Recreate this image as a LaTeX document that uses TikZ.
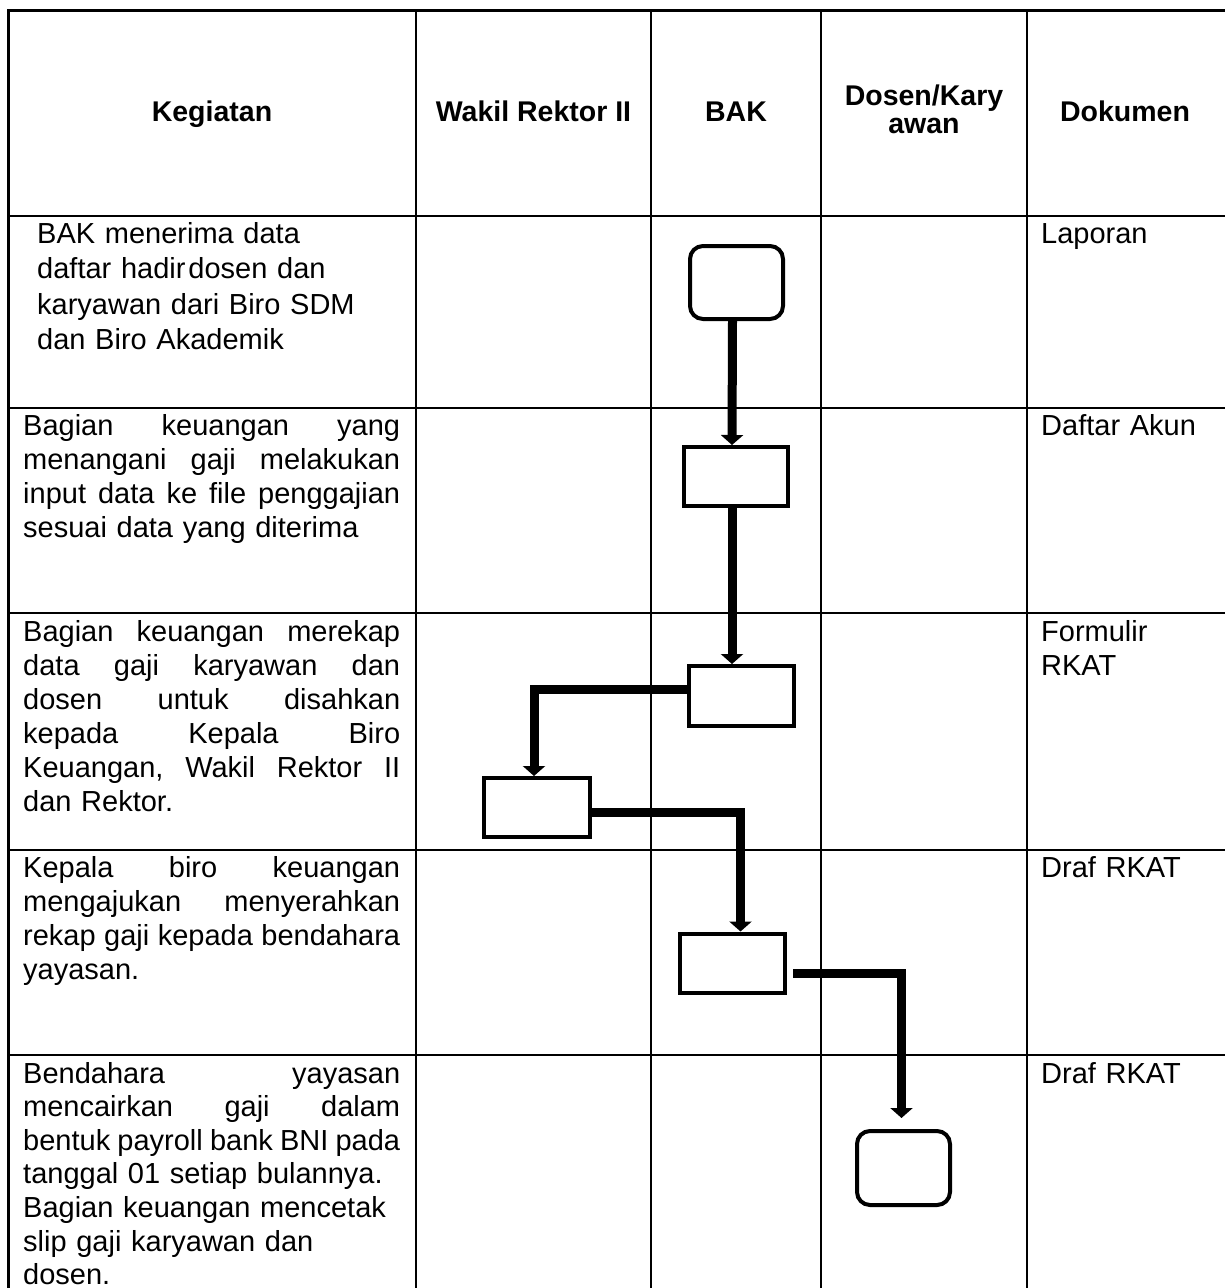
\documentclass[tikz,border=0pt]{standalone}
\usepackage{fontspec}
\setmainfont{Liberation Sans}
\usetikzlibrary{arrows.meta}

\newlength{\kw}
\setlength{\kw}{377pt}
% one justified line of the Kegiatan column
\newcommand{\jl}[1]{\leavevmode\hbox to\kw{\frenchspacing\spaceskip=.278em plus 1fil minus .08em\relax #1}}

\begin{document}
\begin{tikzpicture}[x=1pt,y=-1pt,
    head/.style={font=\fontsize{28.5}{28}\selectfont\bfseries,align=center,anchor=base,inner sep=0pt},
    cell/.style={font=\fontsize{29}{34}\selectfont,text width=\kw,align=left,anchor=base west,inner sep=0pt},
    doc/.style={font=\fontsize{29}{34}\selectfont,text width=175pt,align=left,anchor=base west,inner sep=0pt},
    term/.style={draw,line width=4pt,rounded corners=13pt,inner sep=0pt},
    proc/.style={draw,line width=4pt,inner sep=0pt},
    flow/.style={line width=9pt,-{Triangle[width=22pt,length=10pt]}}]
  \useasboundingbox (0,0) rectangle (1225,1288);
  \clip (0,0) rectangle (1225,1288);

  % table
  \draw[line width=3pt] (8,1300) -- (8,10) -- (1240,10);
  \draw[line width=2pt] (8,216) -- (1240,216);
  \foreach \y in {408,613,850,1055}
    \draw[line width=2pt] (8,\y) -- (1240,\y);
  \foreach \x in {416,651,821,1027}
    \draw[line width=2pt] (\x,10) -- (\x,1300);
  \draw[line width=3pt] (1227,10) -- (1227,1300);

  % header
  \node[head] (hkeg) at (212,121) {Kegiatan};
  \node[head] (hwr) at (533.5,121) {Wakil Rektor II};
  \node[head] (hbak) at (736,121) {BAK};
  \node[head] (hdos) at (924,133) {Dosen/Kary\\awan};
  \node[head] (hdok) at (1125,121) {Dokumen};

  % kegiatan
  \node[cell,font=\fontsize{29}{35.6}\selectfont] (k1) at (37,243) {BAK menerima data\\daftar hadir\kern3pt dosen dan\\karyawan dari Biro SDM\\dan Biro Akademik};
  \node[cell] (k2) at (23,435) {\jl{Bagian keuangan yang}\\\jl{menangani gaji melakukan}\\\jl{input data ke file penggajian}\\sesuai data yang diterima};
  \node[cell] (k3) at (23,641) {\jl{Bagian keuangan merekap}\\\jl{data gaji karyawan dan}\\\jl{dosen untuk disahkan}\\\jl{kepada Kepala Biro}\\\jl{Keuangan, Wakil Rektor II}\\dan Rektor.};
  \node[cell] (k4) at (23,877) {\jl{Kepala biro keuangan}\\\jl{mengajukan menyerahkan}\\\jl{rekap gaji kepada bendahara}\\yayasan.};
  \node[cell,font=\fontsize{29}{33.6}\selectfont] (k5) at (23,1083) {\jl{Bendahara yayasan}\\\jl{mencairkan gaji dalam}\\\jl{bentuk payroll bank BNI pada}\\tanggal 01 setiap bulannya.\\Bagian keuangan mencetak\\slip gaji karyawan dan\\dosen.};

  % dokumen
  \node[doc] (d1) at (1041,243) {Laporan};
  \node[doc] (d2) at (1041,435) {Daftar Akun};
  \node[doc] (d3) at (1041,641) {Formulir\\RKAT};
  \node[doc] (d4) at (1041,877) {Draf RKAT};
  \node[doc] (d5) at (1041,1083) {Draf RKAT};

  % flow
  \node[term,minimum width=93pt,minimum height=73pt] (mulai) at (736.5,282.5) {};
  \node[proc,minimum width=104pt,minimum height=59pt] (input) at (736,476.5) {};
  \node[proc,minimum width=105pt,minimum height=60pt] (rekap) at (741.5,696) {};
  \node[proc,minimum width=106pt,minimum height=59pt] (sah) at (537,807.5) {};
  \node[proc,minimum width=105pt,minimum height=59pt] (ajukan) at (732.5,963) {};
  \node[term,minimum width=93pt,minimum height=74pt] (selesai) at (903.5,1168) {};

  \draw[flow] ([xshift=-4pt]mulai.south) -- ([xshift=-4pt]input.north);
  \draw[flow] ([xshift=-4pt]input.south) -- ([xshift=-4pt]input.south |- rekap.north);
  \draw[flow] ([yshift=7pt]rekap.west) -| ([xshift=-3pt]sah.north);
  \draw[flow] ([yshift=-5pt]sah.east) -| ([xshift=8pt]ajukan.north);
  \draw[flow] ([xshift=6pt,yshift=-10pt]ajukan.east) -| ([xshift=-2pt,yshift=11pt]selesai.north);
\end{tikzpicture}
\end{document}
